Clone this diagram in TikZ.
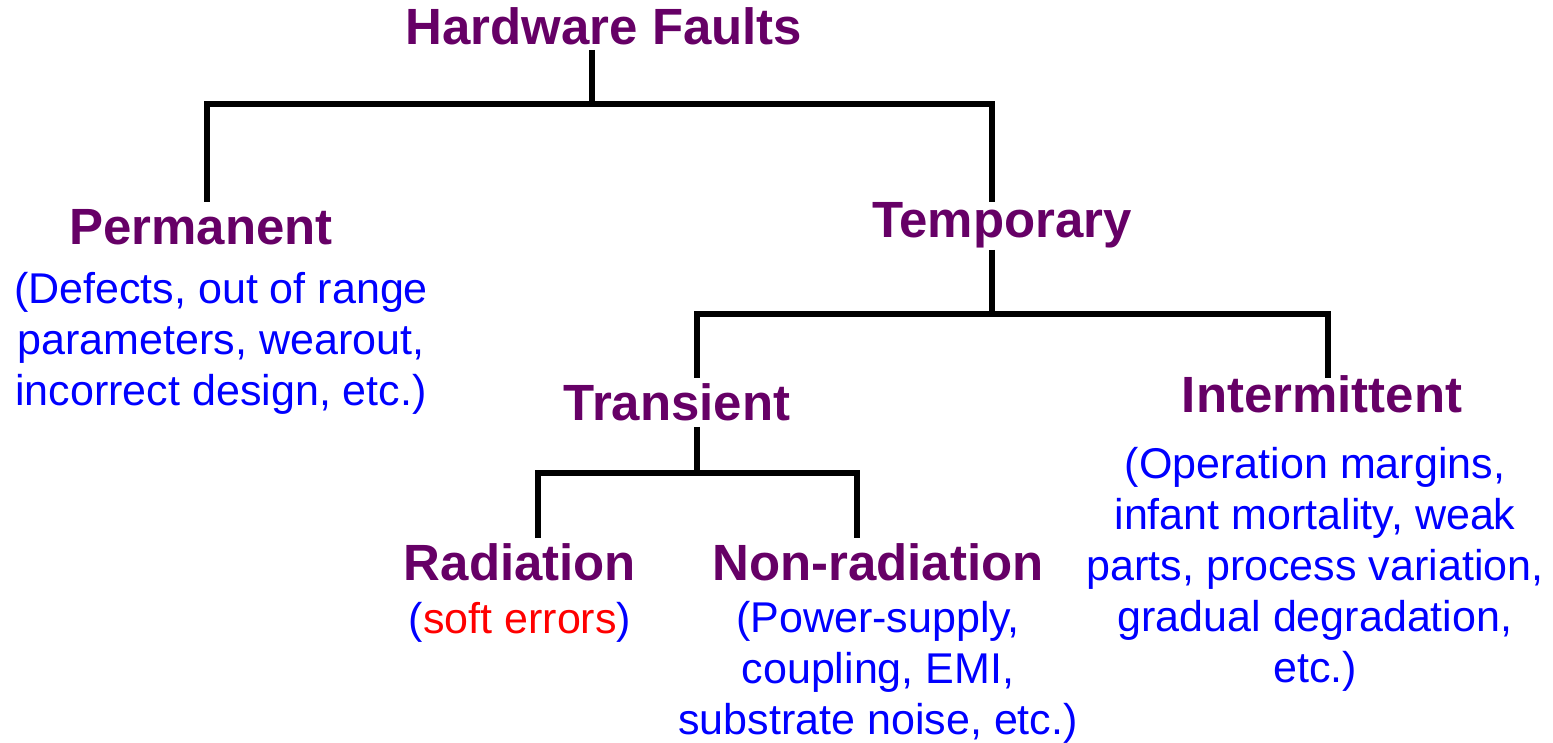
\documentclass[tikz,border=0pt]{standalone}
\usepackage{fontspec}
\setmainfont{Liberation Sans}
\definecolor{faultpurple}{HTML}{660066}
\definecolor{noteblue}{HTML}{0000FF}
\definecolor{notered}{HTML}{FF0000}
\tikzset{
  cat/.style={anchor=base, inner sep=0pt, text=faultpurple,
    font=\fontsize{29}{34}\selectfont\bfseries},
  note/.style={anchor=base, inner sep=0pt, text=noteblue, align=center,
    font=\fontsize{24.5}{28.9}\selectfont},
  link/.style={line width=3.2pt, line join=miter, draw=black}
}
\begin{document}
\begin{tikzpicture}[x=0.02cm, y=-0.02cm]
    \useasboundingbox (0,0) rectangle (1553,743);
    % Categorias
    \node[cat] (hw) at (604,45) {Hardware Faults};
    \node[cat] (perm) at (201,245) {Permanent};
    \node[cat] (temp) at (1002,238) {Temporary};
    \node[cat] (trans) at (677,420) {Transient};
    \node[cat] (inter) at (1322,413) {Intermittent};
    \node[cat] (rad) at (520,580) {Radiation};
    \node[cat] (nonrad) at (878,580) {Non-radiation};

    % Notas (base = ultima linea)
    \node[note] (permnote) at (221,405) {(Defects, out of range\\parameters, wearout,\\incorrect design, etc.)};
    \node[note] (radnote) at (520,633) {(\textcolor{notered}{soft errors})};
    \node[note] (nonradnote) at (878,734) {(Power-supply,\\coupling, EMI,\\substrate noise, etc.)};
    \node[note] (internote) at (1315,682) {(Operation margins,\\infant mortality, weak\\parts, process variation,\\gradual degradation,\\etc.)};

    % Ramas
    \coordinate (hwtop) at (592,50);
    \coordinate (hwbar) at (592,104);
    \coordinate (permtop) at (207,202);
    \coordinate (temptop) at (992,202);
    \coordinate (tempbot) at (992,250);
    \coordinate (tempbar) at (992,314);
    \coordinate (transtop) at (697,378);
    \coordinate (intertop) at (1328,378);
    \coordinate (transbot) at (697,427);
    \coordinate (transbar) at (697,473);
    \coordinate (radtop) at (538,538);
    \coordinate (nonradtop) at (857,538);

    \draw[link] (hwtop) -- (hwbar);
    \draw[link] (permtop) |- (hwbar) -| (temptop);
    \draw[link] (tempbot) -- (tempbar);
    \draw[link] (transtop) |- (tempbar) -| (intertop);
    \draw[link] (transbot) -- (transbar);
    \draw[link] (radtop) |- (transbar) -| (nonradtop);
\end{tikzpicture}
\end{document}
